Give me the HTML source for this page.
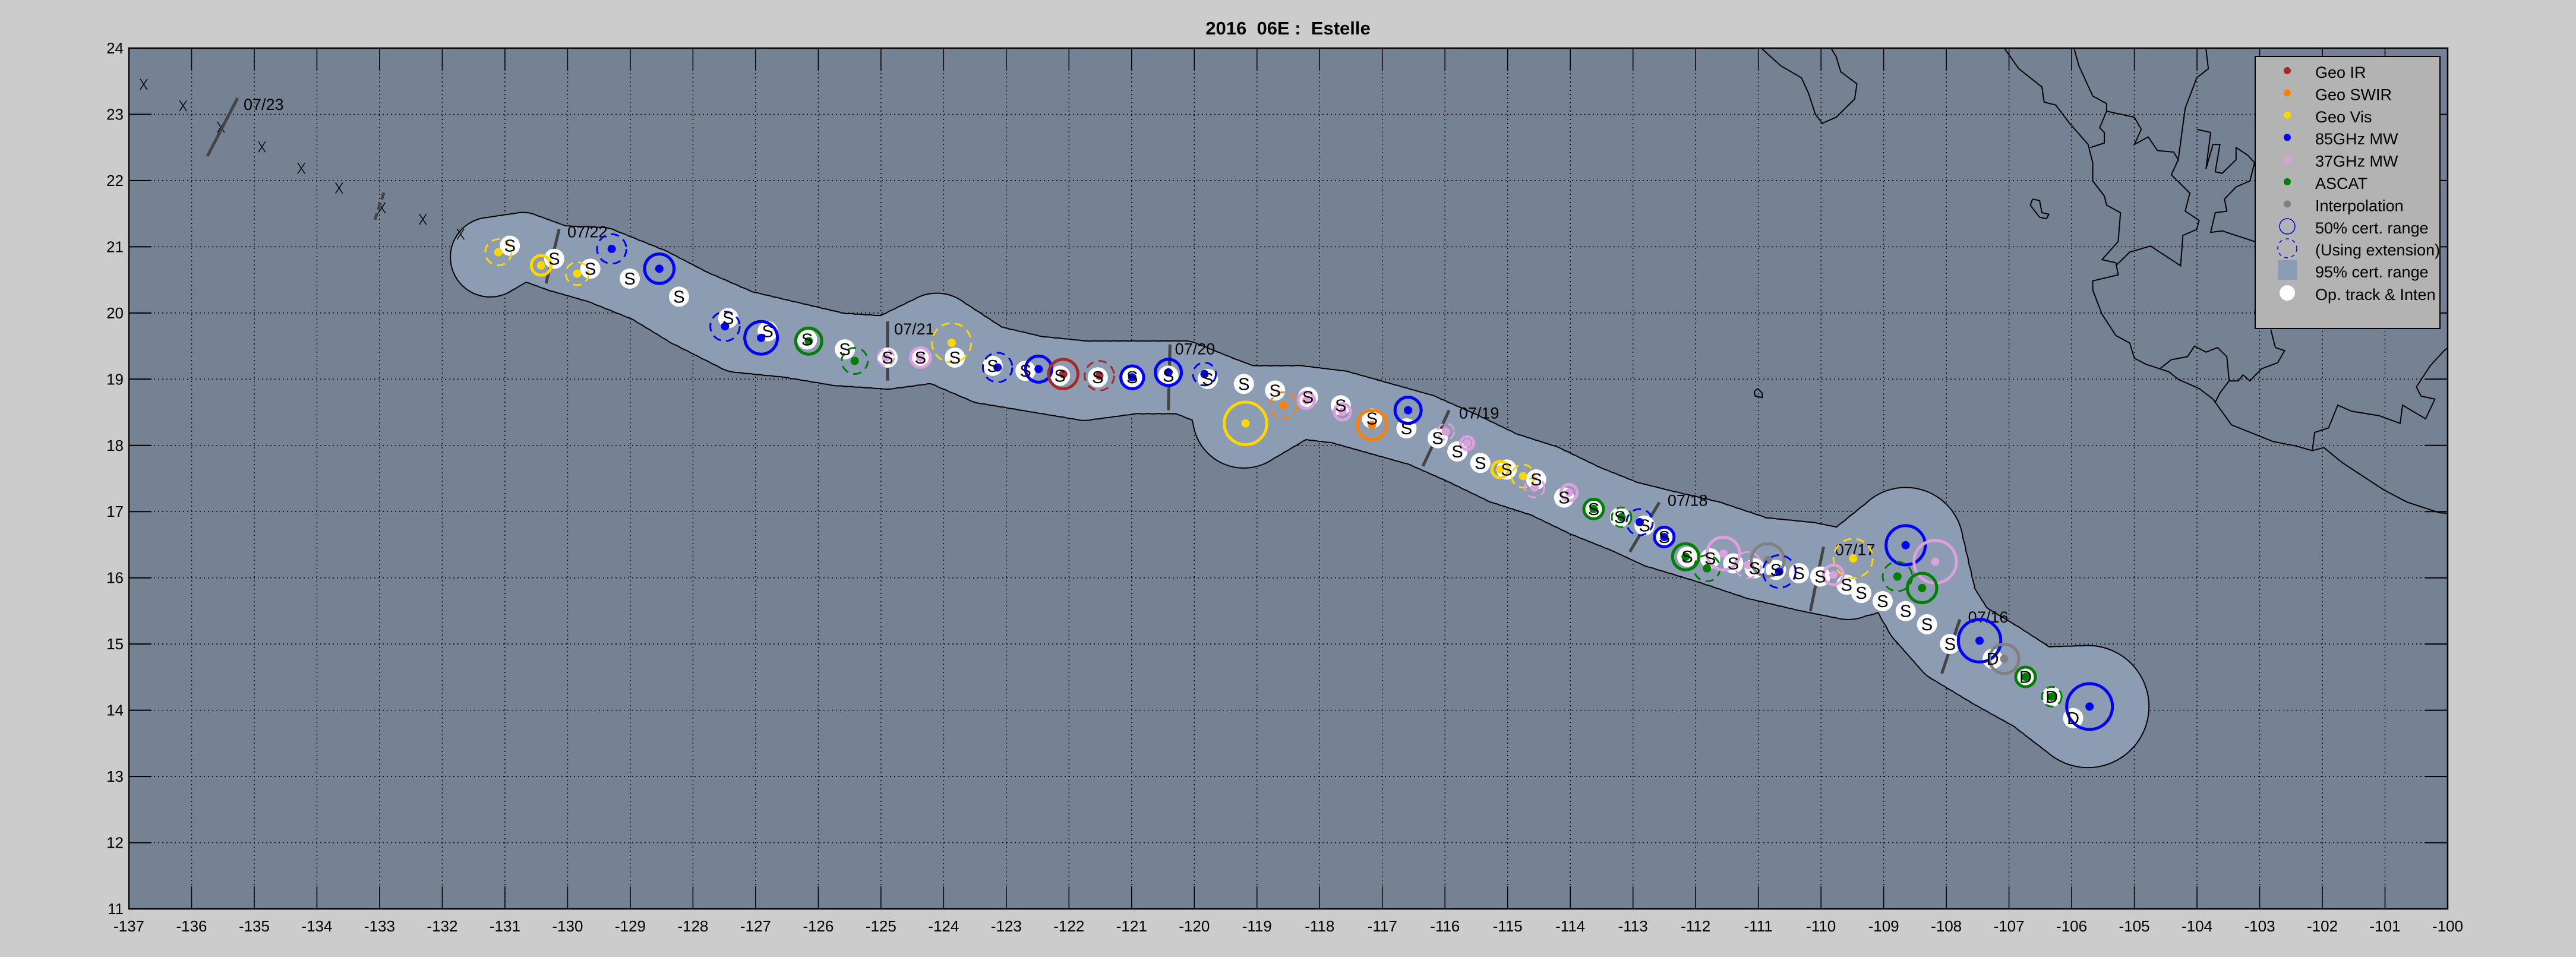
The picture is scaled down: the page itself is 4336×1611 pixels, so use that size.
<!DOCTYPE html>
<html><head><meta charset="utf-8"><style>
html,body{margin:0;padding:0;background:#cccccc;}
svg{display:block;font-family:"Liberation Sans",sans-serif;}
</style></head><body>
<svg id="s" xmlns="http://www.w3.org/2000/svg" width="4336" height="1611" viewBox="0 0 4336 1611">
<rect x="0" y="0" width="4336" height="1611" fill="#cccccc"/>
<text x="2168" y="58" font-size="31" font-weight="bold" text-anchor="middle" fill="#000" style="white-space:pre">2016  06E :  Estelle</text>
<defs><clipPath id="c"><rect x="217" y="81" width="3903" height="1449"/></clipPath></defs>
<rect x="217" y="81" width="3903" height="1449" fill="#758294"/>
<g id="plot" clip-path="url(#c)"></g>
<g id="axes"></g>
</svg>
<script>
var NS="http://www.w3.org/2000/svg";
function el(p,t,a,txt){var e=document.createElementNS(NS,t);for(var k in a)e.setAttribute(k,a[k]);if(txt!==undefined)e.textContent=txt;p.appendChild(e);return e;}
var P=document.getElementById('plot'),A=document.getElementById('axes');
var L=217,T=81,W=3903,H=1449,DX=W/37,DY=H/13;
function X(x){return 217+(x-78)*2.764;}
function Y(y){return 81+(y-30)*2.771;}
function S(r){return r*2.75;}
function ZX(x){return 2900+x/1.285;} function ZY(y){return 80+y/1.96;}
var coasts=[
[[610,5],[640,70],[690,130],[695,180],[720,190],[750,250],[790,320],[800,380],[800,440],[825,490],[830,520],[860,545],[855,640],[820,700],[850,710],[855,750],[800,770],[800,800],[820,880],[850,950],[880,975],[890,1025],[915,1045],[965,1070],[985,1095],[1030,1125],[1060,1160],[1100,1245],[1190,1300],[1240,1315],[1275,1330],[1300,1320],[1340,1370],[1380,1410],[1430,1460],[1480,1500],[1550,1535],[1600,1540]],
[[85,5],[125,60],[170,100],[185,150],[200,220],[215,250],[245,230],[285,170],[290,120],[255,80],[245,30],[235,5]],
[[670,500],[685,505],[690,545],[705,550],[700,565],[685,560],[665,520],[670,500]],
[[75,1125],[85,1140],[85,1155],[70,1150],[68,1135],[75,1125]],
[[760,5],[770,60],[800,160],[830,185],[830,210],[890,230],[905,270],[890,320],[920,295],[940,340],[975,345],[985,370],[1000,200],[1025,100],[1050,70],[1045,5]],
[[795,330],[825,315],[825,280],[815,265],[830,210]],
[[985,370],[970,420],[1010,480],[1000,540],[1030,570],[1025,600],[995,620],[990,720],[960,690],[925,655],[880,675],[850,720]],
[[1025,270],[1055,280],[1045,400],[1060,320],[1075,320],[1065,410],[1080,415],[1110,370],[1110,330],[1135,355],[1150,380],[1140,440],[1110,460],[1085,500],[1090,540],[1065,545],[1055,610],[1080,605],[1150,640]],
[[1185,930],[1195,990],[1215,1000],[1200,1040],[1165,1060],[1140,1100],[1125,1080],[1115,1100],[1095,1100],[1090,1020],[1070,990],[1045,1005],[1020,985],[1005,1020],[970,1030],[945,1060]],
[[1095,1100],[1075,1140],[1065,1170]],
[[1275,1330],[1280,1270],[1310,1255],[1330,1180],[1360,1200],[1420,1215],[1465,1240],[1470,1180],[1520,1225],[1540,1160],[1510,1150],[1500,1120],[1530,1050],[1560,1000],[1568,990]],
[[1152,855],[1150,880]]
];
coasts.forEach(function(c){el(P,'polyline',{points:c.map(function(p){return ZX(p[0])+','+ZY(p[1]);}).join(' '),fill:'none',stroke:'#000','stroke-width':2});});
for(var i=0;i<=37;i++){var x=L+i*DX;el(P,'line',{x1:x,y1:T,x2:x,y2:T+H,stroke:'#000','stroke-width':1.5,'stroke-dasharray':'2,5'});}
for(var j=0;j<=13;j++){var y=T+j*DY;el(P,'line',{x1:L,y1:y,x2:L+W,y2:y,stroke:'#000','stroke-width':1.5,'stroke-dasharray':'2,5'});}
var env=[[298,157,24],[318,150,20],[340,158,20],[365,162,23],[395,174,23],[420,188,24],[450,202,25],[480,207,23],[510,213,22],[540,215,22],[570,206,27],[600,222,24],[630,228,23],[660,232,24],[690,230,22],[720,230,22],[745,240,22],[757,254,31],[790,245,22],[815,248,22],[840,255,22],[865,262,22],[890,273,22],[915,285,22],[940,293,22],[965,305,22],[990,315,22],[1010,322,24],[1040,330,25],[1070,340,25],[1100,345,27],[1125,350,27],[1160,332,35],[1175,370,29],[1190,390,27],[1215,405,27],[1240,420,26],[1271,430,37]];
var pts=[];
for(var k=0;k<env.length-1;k++){var a=env[k],b=env[k+1];for(var s=0;s<5;s++){var t=s/5;pts.push([a[0]+(b[0]-a[0])*t,a[1]+(b[1]-a[1])*t,a[2]+(b[2]-a[2])*t]);}}
pts.push(env[env.length-1]);
var ge=el(P,'g',{});
pts.forEach(function(e){el(ge,'circle',{cx:X(e[0]),cy:Y(e[1]),r:S(e[2])+2,fill:'#000'});});
pts.forEach(function(e){el(ge,'circle',{cx:X(e[0]),cy:Y(e[1]),r:S(e[2]),fill:'#8c9cb2'});});
[[87,52],[111,65],[134,78],[159,90],[183,103],[206,115],[232,127],[257,134],[280,143]].forEach(function(p){var x=X(p[0]),y=Y(p[1]);el(P,'path',{d:'M'+(x-6)+' '+(y-9)+'L'+(x+6)+' '+(y+9)+'M'+(x+6)+' '+(y-9)+'L'+(x-6)+' '+(y+9),stroke:'#000','stroke-width':1.5});});
var dl=[[349,263,400,165,'07/23',410,185],[332,173,340,140,'07/22',345,145],[540,232,540,196,'07/21',544,204],[711,250,712,210,'07/20',715,216],[866,284,882,250,'07/19',888,255],[992,336,1010,306,'07/18',1015,308],[1102,372,1110,333,'07/17',1117,338],[1182,410,1193,377,'07/16',1198,379]];
dl.forEach(function(d,i){if(i==0){el(P,'line',{x1:d[0],y1:d[1],x2:d[2],y2:d[3],stroke:'#444','stroke-width':5});el(P,'text',{x:d[5],y:d[6],'font-size':27},d[4]);}else{el(P,'line',{x1:X(d[0]),y1:Y(d[1]),x2:X(d[2]),y2:Y(d[3]),stroke:'#444','stroke-width':5});el(P,'text',{x:X(d[5]),y:Y(d[6]),'font-size':27},d[4]);}});
el(P,'line',{x1:631,y1:370,x2:647,y2:322,stroke:'#444','stroke-width':5,'stroke-dasharray':'12,6'});
var tr=[[310,150],[337,158],[359,164],[383,170],[413,181],[443,194],[467,202],[491,207],[514,213],[540,218],[560,218],[581,218],[604,223],[624,226],[645,229],[668,230],[689,230],[711,229],[735,231],[757,234],[776,238],[796,242],[816,247],[835,255],[856,261],[875,267],[887,275],[901,282],[917,286],[935,292],[952,303],[970,310],[986,315],[1001,320],[1013,327],[1027,339],[1041,340],[1055,343],[1068,346],[1081,347],[1095,349],[1108,351],[1124,356],[1133,361],[1146,366],[1160,372],[1173,380],[1187,392],[1213,401],[1233,412],[1249,424],[1262,437]];
var COL={r:'#a52a2a',o:'#ff8000',y:'#ffd700',b:'#0000ff',p:'#dda0dd',g:'#007f00',k:'#808080'};
var mk=[[303,154,'y',8,1],[329,162,'y',6,0],[351,167,'y',7,1],[372,152,'b',9,1],[401,164,'b',9,0],[441,199,'b',9,1],[463,206,'b',10,0],[492,208,'g',8,0],[520,220,'g',8,1],[539,218,'p',5,1],[560,218,'p',6,0],[579,209,'y',12,1],[607,224,'b',9,1],[632,225,'b',8,0],[647,228,'r',9,0],[669,229,'r',9,1],[689,230,'b',7,0],[711,227,'b',8,0],[733,228,'b',7,1],[758,258,'y',13,0],[781,247,'o',8,1],[795,244,'p',5,0],[817,251,'p',5,0],[835,259,'o',9,0],[857,250,'b',8,0],[880,263,'p',5,1],[893,270,'p',4,0],[913,286,'y',5,0],[927,290,'y',7,1],[934,297,'p',6,1],[955,300,'p',5,0],[970,310,'g',6,0],[987,315,'g',6,1],[998,318,'b',8,1],[1013,327,'b',6,0],[1026,339,'g',8,0],[1039,346,'g',8,1],[1049,337,'p',10,0],[1064,344,'p',8,1],[1076,341,'k',10,0],[1083,348,'b',10,1],[1128,340,'y',12,1],[1116,350,'p',6,0],[1160,332,'b',12,0],[1155,351,'g',9,1],[1178,342,'p',13,0],[1170,358,'g',9,0],[1205,390,'b',13,0],[1220,401,'k',9,0],[1233,412,'g',6,0],[1249,424,'g',6,1],[1272,430,'b',14,0]];
tr.forEach(function(t){el(P,'circle',{cx:X(t[0]),cy:Y(t[1]),r:17,fill:'#fff'});});
mk.forEach(function(m){var c=COL[m[2]];var a={cx:X(m[0]),cy:Y(m[1]),r:S(m[3]),fill:'none',stroke:c,'stroke-width':m[4]?3:5};if(m[4])a['stroke-dasharray']='14,9';el(P,'circle',a);el(P,'circle',{cx:X(m[0]),cy:Y(m[1]),r:7,fill:c});});
tr.forEach(function(t,i){el(P,'text',{x:X(t[0]),y:Y(t[1])+10,'font-size':29,'text-anchor':'middle'},i>=48?'D':'S');});
el(A,'rect',{x:L,y:T,width:W,height:H,fill:'none',stroke:'#000','stroke-width':2.5});
for(var i=0;i<=37;i++){var x=L+i*DX;el(A,'line',{x1:x,y1:T,x2:x,y2:T+38,stroke:'#000','stroke-width':1.5});el(A,'line',{x1:x,y1:T+H,x2:x,y2:T+H-38,stroke:'#000','stroke-width':1.5});el(A,'text',{x:x,y:1568,'font-size':26,'text-anchor':'middle'},String(-137+i));}
for(var j=0;j<=13;j++){var y=T+j*DY;el(A,'line',{x1:L,y1:y,x2:L+38,y2:y,stroke:'#000','stroke-width':2});el(A,'line',{x1:L+W,y1:y,x2:L+W-38,y2:y,stroke:'#000','stroke-width':2});el(A,'text',{x:208,y:y+9,'font-size':26,'text-anchor':'end'},String(24-j));}
el(A,'rect',{x:3796,y:95,width:311,height:458,fill:'#b3b3b3',stroke:'#000','stroke-width':2});
var lg=[['#a52a2a','Geo IR'],['#ff8000','Geo SWIR'],['#ffd700','Geo Vis'],['#0000ff','85GHz MW'],['#dda0dd','37GHz MW'],['#007f00','ASCAT'],['#808080','Interpolation']];
lg.forEach(function(l,i){var y=119+i*37.4;el(A,'circle',{cx:3850,cy:y,r:6,fill:l[0]});el(A,'text',{x:3897,y:y+12,'font-size':27},l[1]);});
el(A,'circle',{cx:3850,cy:381,r:13,fill:'none',stroke:'#0000ff','stroke-width':1.5});el(A,'text',{x:3897,y:393,'font-size':27},'50% cert. range');
el(A,'circle',{cx:3850,cy:418,r:16,fill:'none',stroke:'#0000ff','stroke-width':1.5,'stroke-dasharray':'6,6'});el(A,'text',{x:3897,y:430,'font-size':27},'(Using extension)');
el(A,'rect',{x:3834,y:438,width:33,height:33,fill:'#8c9cb2'});el(A,'text',{x:3897,y:467,'font-size':27},'95% cert. range');
el(A,'circle',{cx:3850,cy:493,r:13,fill:'#fff'});el(A,'text',{x:3897,y:505,'font-size':27},'Op. track & Inten');
</script>
</body></html>
